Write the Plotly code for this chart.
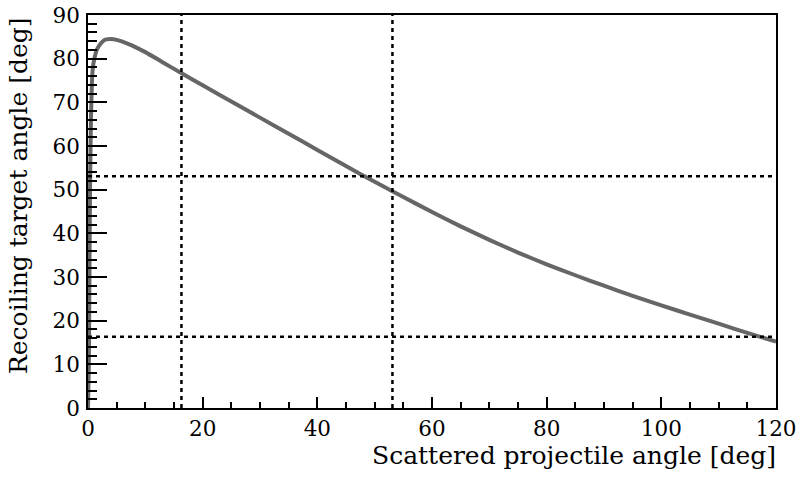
import plotly.graph_objects as go

# Curve values (deg)
proj_angle = [0, 0.15, 0.25, 0.35, 0.5, 0.67, 0.85, 1.13, 1.5, 2.0, 2.6, 3.2,
              4.0, 5.0, 7.0, 10, 13, 16.4, 20, 25, 30, 35, 40, 45,
              50, 53, 55, 60, 65, 70, 75, 80, 85, 90, 95, 100, 105, 110, 115, 120]
recoil_angle = [0, 10, 30, 50, 65, 74, 78, 80.1, 81.9, 83.1, 84.0, 84.4,
                84.5, 84.3, 83.4, 81.5, 79.2, 76.6, 73.9, 70.2, 66.5, 62.8, 59.1, 55.4,
                51.8, 49.7, 48.3, 44.9, 41.6, 38.5, 35.6, 32.9, 30.4, 28.0, 25.7, 23.5,
                21.4, 19.3, 17.2, 15.2]

# dotted guide lines
vert_lines = [16.3, 53.1]
horiz_lines = [16.3, 53.1]

x_ticks = [0, 20, 40, 60, 80, 100, 120]
y_ticks = [0, 10, 20, 30, 40, 50, 60, 70, 80, 90]

font_name = "DejaVu Serif"

fig = go.Figure()

fig.add_trace(go.Scatter(x=proj_angle, y=recoil_angle, mode="lines",
                         line=dict(color="#666666", width=4, shape="spline", smoothing=0.5),
                         showlegend=False))

for v in vert_lines:
    fig.add_vline(x=v, line=dict(color="black", width=2.5, dash="4px,4px"))
for h in horiz_lines:
    fig.add_hline(y=h, line=dict(color="black", width=2.5, dash="4px,4px"))

fig.update_xaxes(range=[0, 120], tickvals=x_ticks, ticks="inside", ticklen=11,
                 tickwidth=1.5, tickcolor="black",
                 minor=dict(dtick=5, ticks="inside", ticklen=6, tickwidth=1.5, tickcolor="black"),
                 showline=True, linecolor="black", linewidth=1.5, mirror=True,
                 showgrid=False, zeroline=False, ticklabelstandoff=0,
                 automargin=False, ticklabeloverflow="allow",
                 tickfont=dict(family=font_name, size=21.5, color="black"))
fig.update_yaxes(range=[0, 90], tickvals=y_ticks, ticks="inside", ticklen=19,
                 tickwidth=1.5, tickcolor="black",
                 minor=dict(dtick=2, ticks="inside", ticklen=9, tickwidth=1.5, tickcolor="black"),
                 showline=True, linecolor="black", linewidth=1.5, mirror=True,
                 showgrid=False, zeroline=False, ticklabelstandoff=2,
                 automargin=False, ticklabeloverflow="allow",
                 tickfont=dict(family=font_name, size=21.5, color="black"))

# axis titles, right / top aligned like the original
fig.add_annotation(text="Scattered projectile angle [deg]", xref="paper", yref="paper",
                   x=1, y=0, xanchor="right", yanchor="middle", yshift=-47, xshift=2,
                   showarrow=False, font=dict(family=font_name, size=25, color="black"))
fig.add_annotation(text="Recoiling target angle [deg]", xref="paper", yref="paper",
                   x=0, y=1, xanchor="center", yanchor="top", xshift=-70, yshift=-1,
                   textangle=-90, showarrow=False,
                   font=dict(family=font_name, size=25, color="black"))

fig.update_layout(width=797, height=481, plot_bgcolor="white", paper_bgcolor="white",
                  margin=dict(l=88, r=21, t=15, b=73, autoexpand=False))

# drop the page's default body margin so the figure sits at the corner
fig.write_html("out.html", config={"displayModeBar": False},
               post_script="document.body.style.margin = '0';")
